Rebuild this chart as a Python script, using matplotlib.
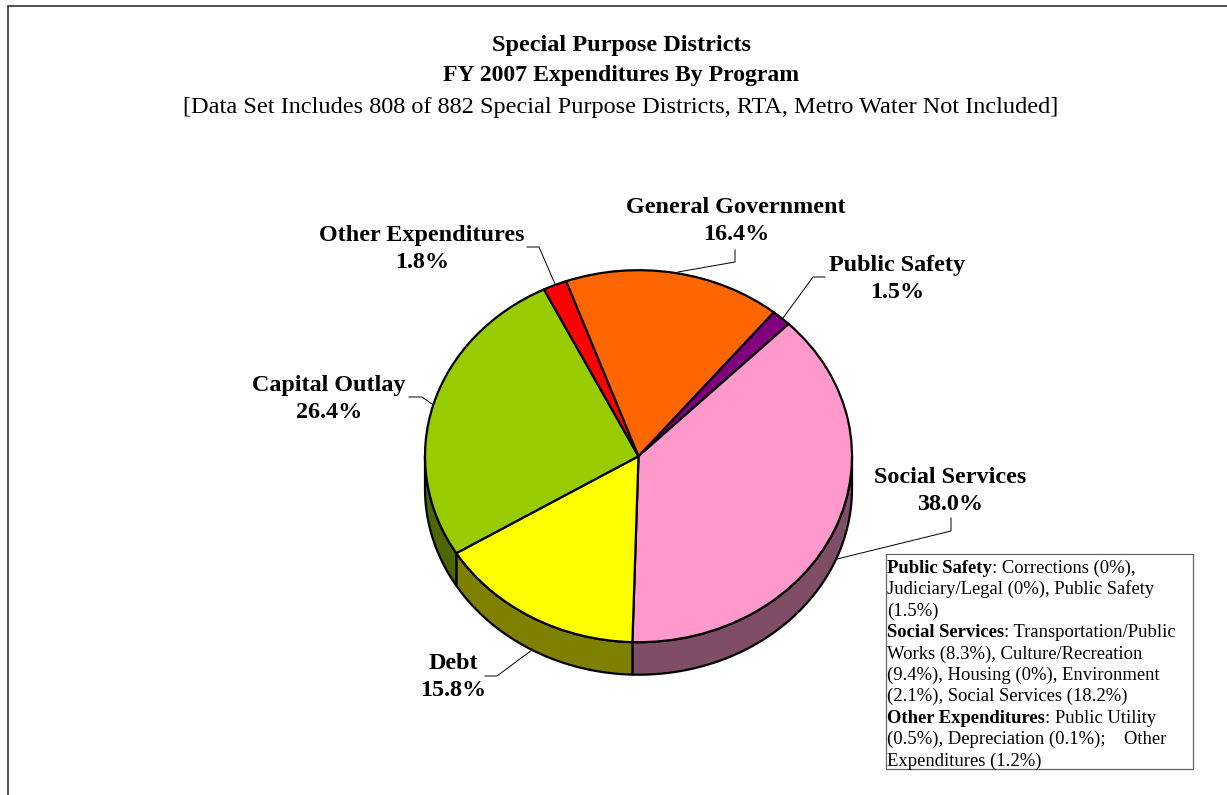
"""
Special purpose districts expenditures, drawn as an extruded pie
"""

import matplotlib.colors as mcolors
import matplotlib.pyplot as plt
import numpy as np

plt.rcParams["font.family"] = ["Liberation Serif", "DejaVu Serif"]

programs = [
    "Public Safety",
    "Social Services",
    "Debt",
    "Capital Outlay",
    "Other Expenditures",
    "General Government",
]
shares = [1.5, 38.0, 15.8, 26.4, 1.8, 16.4]
slice_colors = ["#800080", "#FF99CC", "#FFFF00", "#99CC00", "#FF0000", "#FF6600"]

# label centres and leader lines, in image pixels
label_xy = [(897, 279), (950, 491), (453, 677), (329, 399), (422, 249), (736, 221)]
leaders = [
    [(783, 318), (813, 277), (825, 277)],
    [(837, 559), (951, 531), (951, 518)],
    [(532, 650), (497, 676), (485, 676)],
    [(432, 404), (422, 397), (409, 397)],
    [(555, 284), (539, 247), (527, 247)],
    [(678, 272), (735, 262), (735, 250)],
]

note_lines = [
    ("Public Safety", ": Corrections (0%),"),
    ("", "Judiciary/Legal (0%), Public Safety"),
    ("", "(1.5%)"),
    ("Social Services", ": Transportation/Public"),
    ("", "Works (8.3%), Culture/Recreation"),
    ("", "(9.4%), Housing (0%), Environment"),
    ("", "(2.1%), Social Services (18.2%)"),
    ("Other Expenditures", ": Public Utility"),
    ("", "(0.5%), Depreciation (0.1%);    Other"),
    ("", "Expenditures (1.2%)"),
]

W, H = 1227, 795
CX, CY = 638.5, 456.2
RX, RY = 213.5, 186.0
DEPTH = 32.5

fig = plt.figure(figsize=(W / 100, H / 100), dpi=100)

# Pie axes: one data unit is RX pixels across and RY pixels down
ax = fig.add_axes([0, 0, 1, 1])
wedges, _ = ax.pie(
    shares,
    colors=slice_colors,
    startangle=50.7,
    counterclock=False,
    radius=1,
    wedgeprops={"edgecolor": "black", "linewidth": 1.6},
)
ax.set_aspect("auto")
ax.set_xlim(-CX / RX, (W - CX) / RX)
ax.set_ylim((CY - H) / RY, CY / RY)

# Side wall of the slices on the front half
drop = DEPTH / RY
for wedge, color in zip(wedges, slice_colors):
    lo = max(min(wedge.theta1, wedge.theta2), -180)
    hi = min(max(wedge.theta1, wedge.theta2), 0)
    if lo >= hi:
        continue
    t = np.radians(np.linspace(lo, hi, 80))
    xs = np.concatenate([np.cos(t), np.cos(t[::-1])])
    ys = np.concatenate([np.sin(t), np.sin(t[::-1]) - drop])
    dark = tuple(c * 0.5 for c in mcolors.to_rgb(color))
    ax.fill(xs, ys, facecolor=dark, edgecolor="black", linewidth=1.6, zorder=0.5)

# Overlay in image pixels for frame, text and leaders
ov = fig.add_axes([0, 0, 1, 1])
ov.set_xlim(0, W)
ov.set_ylim(H, 0)
ov.axis("off")

ov.plot([8, 8, W], [H, 6, 6], color="#333333", linewidth=1.2, solid_joinstyle="miter")

ov.text(621, 46, "Special Purpose Districts", ha="center", va="center",
        fontsize=17.5, fontweight="bold")
ov.text(621, 76, "FY 2007 Expenditures By Program", ha="center", va="center",
        fontsize=17.1, fontweight="bold")
ov.text(621, 108,
        "[Data Set Includes 808 of 882 Special Purpose Districts, RTA, Metro Water Not Included]",
        ha="center", va="center", fontsize=17.5)

for name, share, (x, y), path in zip(programs, shares, label_xy, leaders):
    ov.text(x, y, f"{name}\n{share:.1f}%", ha="center", va="center",
            fontsize=17.4, fontweight="bold", linespacing=1.32)
    ov.plot([p[0] for p in path], [p[1] for p in path], color="black", linewidth=0.7)

# Note box with bold run-in heads
ov.add_patch(plt.Rectangle((886, 554), 306.5, 215, facecolor="white",
                           edgecolor="#666666", linewidth=0.9))
renderer = fig.canvas.get_renderer()
y = 573
for head, rest in note_lines:
    x = 887
    if head:
        t = ov.text(x, y, head, fontsize=13.4, fontweight="bold", va="baseline")
        x += t.get_window_extent(renderer).width
    ov.text(x, y, rest, fontsize=13.4, va="baseline")
    y += 21.4

fig.savefig("out.png", dpi=100)
plt.close(fig)
